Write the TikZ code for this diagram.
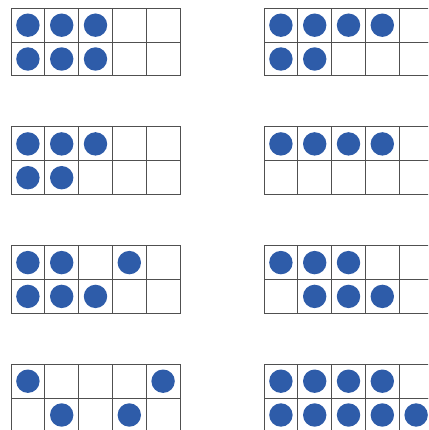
\documentclass[tikz,border=0pt]{standalone}
\definecolor{dotblue}{HTML}{2E5CA9}
\definecolor{gridgray}{HTML}{505050}
\tikzset{
  cell/.style={draw=gridgray, line width=1pt, minimum size=33.8pt, inner sep=0pt, outer sep=0pt},
  dotnode/.style={circle, fill=dotblue, minimum size=23.4pt, inner sep=0pt}
}
\newcommand\tenframe[3]{%
  \foreach \ci in {1,...,5}{\foreach \rj in {1,2}{%
    \node[cell] (#1-\rj-\ci) at ({#2+(\ci-0.5)*33.8},{#3+(\rj-0.5)*33.8}) {};}}}
\newcommand\dotsrow[3]{%
  \foreach \ci in {#3}{\node[dotnode] (#1-d-#2-\ci) at (#1-#2-\ci) {};}}
\begin{document}
\begin{tikzpicture}[x=1pt,y=-1pt]
\useasboundingbox (0,0) rectangle (428,430);
\begin{scope}
\clip (0,0) rectangle (428,430);
% frames
\tenframe{fa}{11}{8.3}
\tenframe{fb}{264}{8.3}
\tenframe{fc}{11}{127}
\tenframe{fd}{264}{127}
\tenframe{fe}{11}{245.7}
\tenframe{ff}{264}{245.7}
\tenframe{fg}{11}{364.3}
\tenframe{fh}{264}{364.3}
% dots
\dotsrow{fa}{1}{1,2,3}\dotsrow{fa}{2}{1,2,3}
\dotsrow{fb}{1}{1,2,3,4}\dotsrow{fb}{2}{1,2}
\dotsrow{fc}{1}{1,2,3}\dotsrow{fc}{2}{1,2}
\dotsrow{fd}{1}{1,2,3,4}
\dotsrow{fe}{1}{1,2,4}\dotsrow{fe}{2}{1,2,3}
\dotsrow{ff}{1}{1,2,3}\dotsrow{ff}{2}{2,3,4}
\dotsrow{fg}{1}{1,5}\dotsrow{fg}{2}{2,4}
\dotsrow{fh}{1}{1,2,3,4}\dotsrow{fh}{2}{1,2,3,4,5}
\end{scope}
\end{tikzpicture}
\end{document}
